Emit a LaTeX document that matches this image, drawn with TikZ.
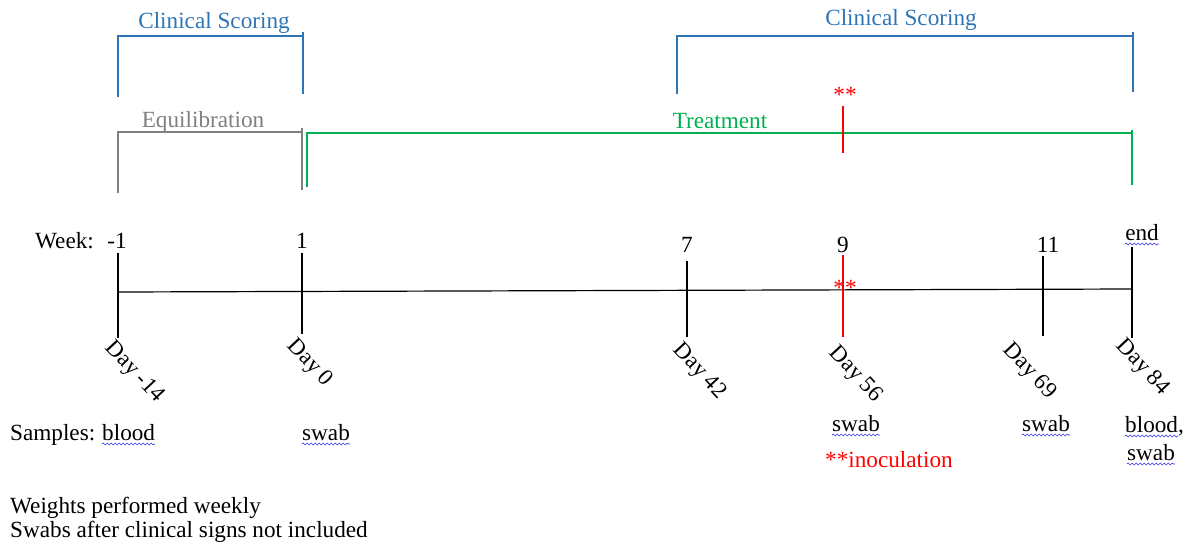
\documentclass[tikz,border=0pt]{standalone}
\usepackage{fontspec}
\setmainfont{Liberation Serif}
\usetikzlibrary{decorations.pathmorphing}
\definecolor{csblue}{RGB}{46,117,182}
\definecolor{eqgray}{RGB}{128,128,128}
\definecolor{trgreen}{RGB}{0,176,80}
\definecolor{inred}{RGB}{255,0,0}
\definecolor{spell}{RGB}{50,50,235}
\begin{document}
\begin{tikzpicture}[x=1pt,y=-1pt,
  txt/.style={font=\fontsize{23.2}{27}\selectfont, inner sep=0pt, anchor=base},
  txtw/.style={txt, anchor=base west},
  daylbl/.style={font=\fontsize{23}{27}\selectfont, inner sep=0pt, anchor=north west, rotate=-47},
  tick/.style={line width=1.2pt, black},
  redtick/.style={line width=1.2pt, inred},
  bluebr/.style={line width=1.3pt, csblue},
  graybr/.style={line width=1.3pt, eqgray},
  greenbr/.style={line width=1.3pt, trgreen},
  spellline/.style={spell, line width=0.6pt, decorate, decoration={snake, amplitude=1pt, segment length=4pt}}
]
\useasboundingbox (0,0) rectangle (1186,544);

% ---- Clinical scoring brackets (blue)
\coordinate (cs1a) at (118,97);
\coordinate (cs1b) at (118,36);
\coordinate (cs1c) at (303,36);
\coordinate (cs1t) at (303,32);
\coordinate (cs1d) at (303,94);
\draw[bluebr] (cs1a) -- (cs1b) -- (cs1c);
\draw[bluebr] (cs1t) -- (cs1d);
\node[txt, text=csblue] (cs1lbl) at (214,28) {Clinical Scoring};

\coordinate (cs2a) at (677,94);
\coordinate (cs2b) at (677,36);
\coordinate (cs2c) at (1133,36);
\coordinate (cs2t) at (1133,32);
\coordinate (cs2d) at (1133,92);
\draw[bluebr] (cs2a) -- (cs2b) -- (cs2c);
\draw[bluebr] (cs2t) -- (cs2d);
\node[txt, text=csblue] (cs2lbl) at (901,25) {Clinical Scoring};

% ---- Equilibration bracket (gray)
\coordinate (eqa) at (118,193);
\coordinate (eqb) at (118,132);
\coordinate (eqc) at (302,132);
\coordinate (eqt) at (302,128);
\coordinate (eqd) at (302,190);
\draw[graybr] (eqa) -- (eqb) -- (eqc);
\draw[graybr] (eqt) -- (eqd);
\node[txt, text=eqgray] (eqlbl) at (203,127) {Equilibration};

% ---- Treatment bracket (green)
\coordinate (tra) at (307,187);
\coordinate (trb) at (307,133);
\coordinate (trc) at (1132,133);
\coordinate (trt) at (1132,130);
\coordinate (trd) at (1132,185);
\draw[greenbr] (tra) -- (trb) -- (trc);
\draw[greenbr] (trt) -- (trd);
\node[txt, text=trgreen] (trlbl) at (720,128) {Treatment};

% ---- inoculation marker on treatment bar
\coordinate (inta) at (843,106);
\coordinate (intb) at (843,153);
\draw[redtick] (inta) -- (intb);
\node[txt, text=inred] (starsTop) at (845,102) {**};

% ---- Main timeline
\coordinate (tlL) at (118,292);
\coordinate (tlR) at (1132,289);
\draw[line width=1.2pt, black] (tlL) -- (tlR);

\coordinate (t1a) at (118,253);  \coordinate (t1b) at (118,338);
\coordinate (t2a) at (302,253);  \coordinate (t2b) at (302,334);
\coordinate (t3a) at (687,261);  \coordinate (t3b) at (687,337);
\coordinate (t4a) at (843,255);  \coordinate (t4b) at (843,337);
\coordinate (t5a) at (1043,256); \coordinate (t5b) at (1043,336);
\coordinate (t6a) at (1132,247); \coordinate (t6b) at (1132,338);
\draw[tick] (t1a) -- (t1b);
\draw[tick] (t2a) -- (t2b);
\draw[tick] (t3a) -- (t3b);
\draw[redtick] (t4a) -- (t4b);
\draw[tick] (t5a) -- (t5b);
\draw[tick] (t6a) -- (t6b);
\node[txt, text=inred] (starsMid) at (845,295) {**};

% ---- Week labels
\node[txtw] (weeklbl) at (35,248) {Week:};
\node[txt] (w1) at (117,248) {-1};
\node[txt] (w2) at (302,248) {1};
\node[txt] (w3) at (687,252) {7};
\node[txt] (w4) at (843,252) {9};
\node[txt] (w5) at (1048,252) {11};
\node[txt] (w6) at (1142,240) {end};

% ---- Day labels
\node[daylbl] (d1) at (116,338) {Day -14};
\node[daylbl] (d2) at (298,336) {Day 0};
\node[daylbl] (d3) at (684,340) {Day 42};
\node[daylbl] (d4) at (840,343) {Day 56};
\node[daylbl] (d5) at (1014,340) {Day 69};
\node[daylbl] (d6) at (1127,336) {Day 84};

% ---- Samples
\node[txtw] (samples) at (10,440) {Samples:};
\node[txtw] (s1) at (102,440) {blood};
\node[txtw] (s2) at (302,440) {swab};
\node[txtw] (s3) at (832,431) {swab};
\node[txtw] (s4) at (1022,431) {swab};
\node[txtw] (s5) at (1125,432) {blood,};
\node[txtw] (s6) at (1127,460) {swab};
\node[txtw, text=inred] (inoc) at (825,467) {**inoculation};

% ---- spell-check underlines
\foreach \n in {s1,s2,s3,s4,s6,w6}{
  \draw[spellline] ([yshift=-4pt]\n.base west) -- ([yshift=-4pt]\n.base east);
}
\draw[spellline] ([yshift=-4pt]s5.base west) -- ([yshift=-4pt,xshift=-6pt]s5.base east);

% ---- notes
\node[txtw] (note1) at (10,513) {Weights performed weekly};
\node[txtw] (note2) at (10,537) {Swabs after clinical signs not included};
\end{tikzpicture}
\end{document}
